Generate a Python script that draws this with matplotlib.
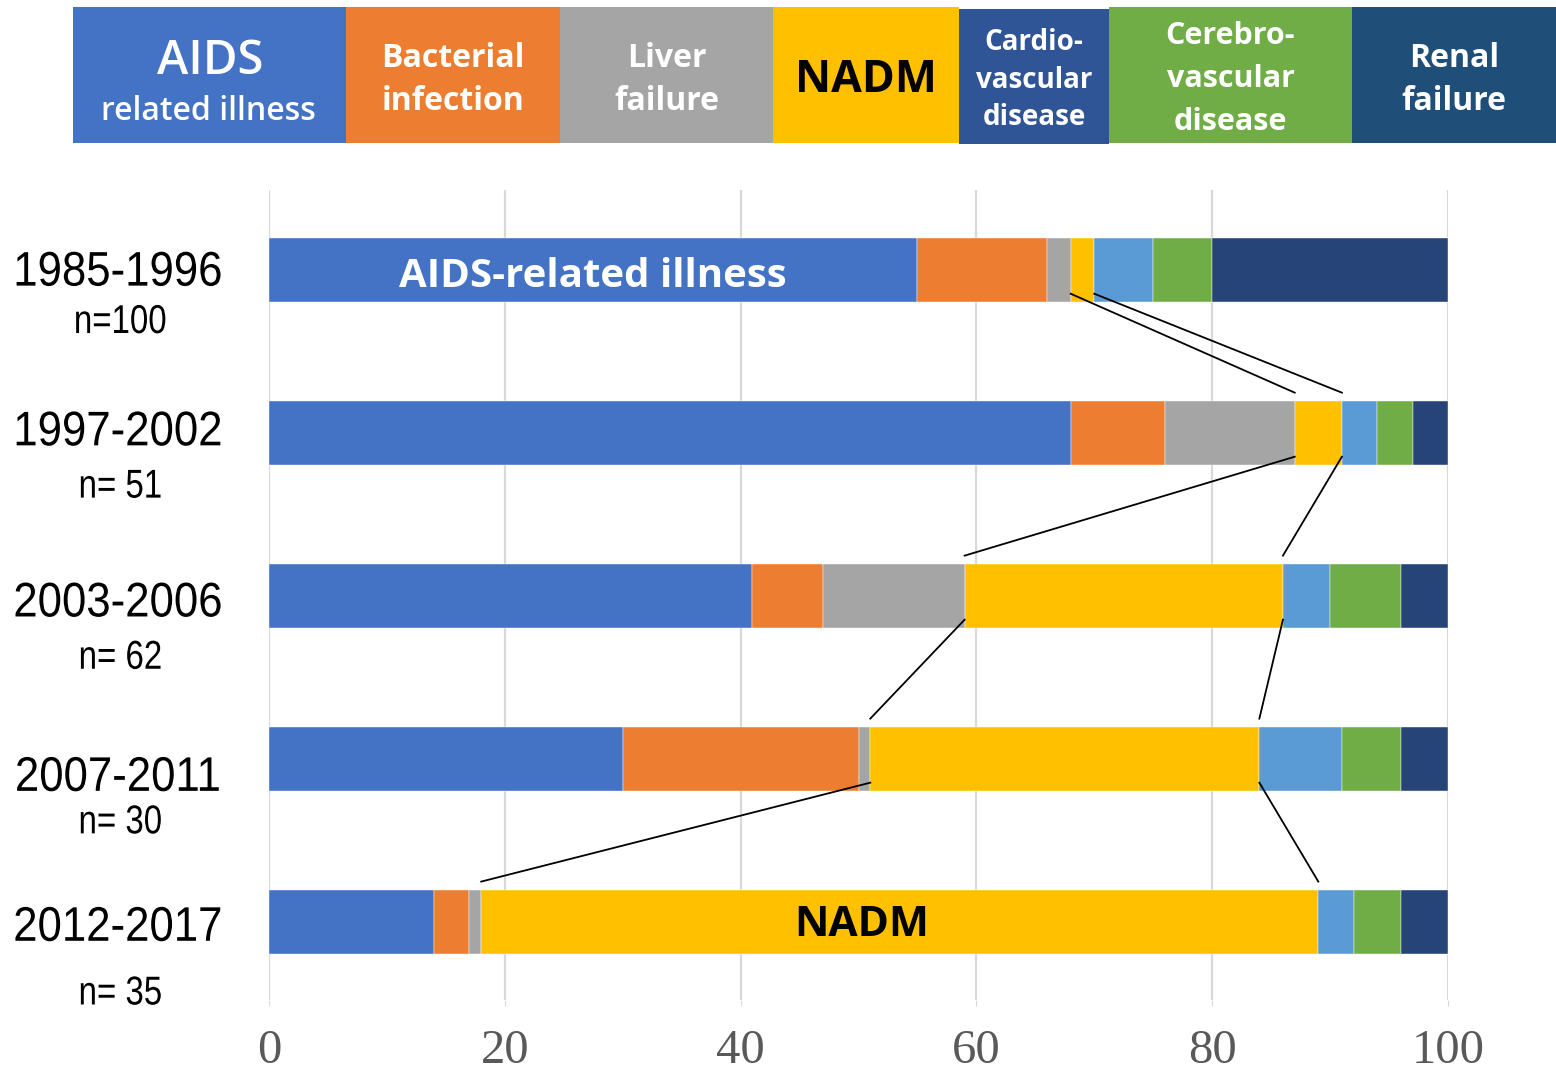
import matplotlib
matplotlib.use("Agg")
import matplotlib.pyplot as plt
from matplotlib.patches import Rectangle
from matplotlib.patheffects import AbstractPathEffect
from matplotlib.transforms import Affine2D

# ---------------- data ----------------
periods = ["1985-1996", "1997-2002", "2003-2006", "2007-2011", "2012-2017"]
counts = ["n=100", "n= 51", "n= 62", "n= 30", "n= 35"]
causes = ["AIDS-related illness", "Bacterial infection", "Liver failure", "NADM",
          "Cardiovascular disease", "Cerebrovascular disease", "Renal failure"]
aids = [55, 68, 41, 30, 14]
bacterial = [11, 8, 6, 20, 3]
liver = [2, 11, 12, 1, 1]
nadm = [2, 4, 27, 33, 71]
cardio = [5, 3, 4, 7, 3]
cerebro = [5, 3, 6, 5, 4]
renal = [20, 3, 4, 4, 4]
xticks = [0, 20, 40, 60, 80, 100]

header_labels = ["AIDS", "Bacterial\ninfection", "Liver\nfailure", "NADM",
                 "Cardio-\nvascular\ndisease", "Cerebro-\nvascular\ndisease", "Renal\nfailure"]

# ---------------- style ----------------
bar_colors = ["#4472C4", "#ED7D31", "#A5A5A5", "#FFC000", "#5B9BD5", "#70AD47", "#264478"]
header_colors = ["#4472C4", "#ED7D31", "#A5A5A5", "#FFC000", "#2F5597", "#70AD47", "#1F4E79"]
W, H = 1556, 1074
FONT = ["Open Sans", "DejaVu Sans"]
NARROW = ["Liberation Sans", "DejaVu Sans"]
SERIF = ["Liberation Serif", "DejaVu Serif"]


class Condense(AbstractPathEffect):
    """Horizontally condense a text around its anchor (narrow-font look)."""

    def __init__(self, text_artist_getter, sx=0.82):
        super().__init__()
        self._get = text_artist_getter
        self._sx = sx

    def draw_path(self, renderer, gc, tpath, affine, rgbFace=None):
        t = self._get()
        cx = t.get_transform().transform(t.get_position())[0]
        squeeze = Affine2D().translate(-cx, 0).scale(self._sx, 1).translate(cx, 0)
        renderer.draw_path(gc, tpath, affine + squeeze, rgbFace)


fig = plt.figure(figsize=(W / 100, H / 100), dpi=100)
fig.patch.set_facecolor("white")

# ---------------- main axes ----------------
ax = fig.add_axes([269 / W, 1 - 1000 / H, 1179 / W, 810 / H])
ax.set_xlim(0, 100)
ax.set_ylim(4.48, -0.49)
bar_h = 0.393
series = [aids, bacterial, liver, nadm, cardio, cerebro, renal]
ypos = list(range(len(periods)))
left = [0.0] * len(periods)
for vals, col, name in zip(series, bar_colors, causes):
    ax.barh(ypos, vals, left=left, height=bar_h, color=col, label=name,
            edgecolor="white", linewidth=0.3, zorder=3)
    left = [l + v for l, v in zip(left, vals)]

ax.set_xticks(xticks)
ax.set_xticklabels([str(t) for t in xticks], fontfamily=SERIF, fontsize=35, color="#595959")
ax.tick_params(axis="x", length=4, color="#D9D9D9", pad=17)
ax.set_yticks([])
ax.grid(axis="x", color="#D9D9D9", linewidth=1.6, zorder=0)
ax.set_axisbelow(True)
for s in ax.spines.values():
    s.set_visible(False)

# connector lines between NADM segments
nadm_left = [a + b + c for a, b, c in zip(aids, bacterial, liver)]
nadm_right = [l + n for l, n in zip(nadm_left, nadm)]
for i in range(len(periods) - 1):
    y0 = ypos[i] + bar_h / 2 - 0.05
    y1 = ypos[i + 1] - bar_h / 2 - 0.05
    ax.plot([nadm_left[i], nadm_left[i + 1]], [y0, y1], color="black", lw=1.3, zorder=4)
    ax.plot([nadm_right[i], nadm_right[i + 1]], [y0, y1], color="black", lw=1.3, zorder=4)

# in-bar labels
ax.text(aids[0] / 2, ypos[0] + 0.04, "AIDS-related illness", color="white", fontsize=29,
        fontweight="bold", fontfamily=FONT, ha="center", va="center", zorder=5)
ax.text(50.3, ypos[4] + 0.025, "NADM", color="black", fontsize=30.5,
        fontweight="bold", fontfamily=FONT, ha="center", va="center", zorder=5)

# row labels
ytr = ax.get_yaxis_transform()
year_off = [0.02, 0.0, 0.05, 0.12, 0.04]
n_off = [0.32, 0.33, 0.38, 0.39, 0.44]
lab_x = (118 - 269) / 1179


def make_label(x, y, s, size, sx):
    t = ax.text(x, y, s, transform=ytr, ha="center", va="center",
                fontsize=size, fontfamily=NARROW, color="black")
    t.set_path_effects([Condense(lambda t=t: t, sx)])
    return t


for i, (p, n) in enumerate(zip(periods, counts)):
    make_label(lab_x, ypos[i] + year_off[i], p, 35, 0.9)
    make_label(lab_x + 0.002, ypos[i] + n_off[i], n, 29, 0.82)

# ---------------- header ----------------
hax = fig.add_axes([0, 0, 1, 1])
hax.set_xlim(0, W)
hax.set_ylim(H, 0)
hax.axis("off")
edges = [73, 346, 560, 773, 959, 1109, 1352, 1556]
tops = [7, 7, 7, 7, 9, 7, 7]
bots = [143, 143, 143, 143, 144, 143, 143]
for i, col in enumerate(header_colors):
    hax.add_patch(Rectangle((edges[i], tops[i]), edges[i + 1] - edges[i], bots[i] - tops[i],
                            facecolor=col, edgecolor="none"))

cx = [(edges[i] + edges[i + 1]) / 2 for i in range(7)]
# AIDS box: two sizes
hax.text(210, 61, header_labels[0], color="white", fontsize=34, fontfamily=FONT,
         fontweight="semibold", ha="center", va="center")
hax.text(208, 111, "related illness", color="white", fontsize=23, fontfamily=FONT,
         fontweight="semibold", ha="center", va="center")
hax.text(cx[1], 80, header_labels[1], color="white", fontsize=23, fontfamily=FONT,
         fontweight="bold", ha="center", va="center", linespacing=1.42)
hax.text(cx[2], 80, header_labels[2], color="white", fontsize=23, fontfamily=FONT,
         fontweight="bold", ha="center", va="center", linespacing=1.42)
hax.text(cx[3], 81, header_labels[3], color="black", fontsize=32, fontfamily=FONT,
         fontweight="bold", ha="center", va="center")
hax.text(cx[4], 80, header_labels[4], color="white", fontsize=20, fontfamily=FONT,
         fontweight="bold", ha="center", va="center", linespacing=1.4)
hax.text(cx[5], 79, header_labels[5], color="white", fontsize=22, fontfamily=FONT,
         fontweight="bold", ha="center", va="center", linespacing=1.57)
hax.text(cx[6], 80, header_labels[6], color="white", fontsize=23, fontfamily=FONT,
         fontweight="bold", ha="center", va="center", linespacing=1.42)

fig.savefig("out.png", dpi=100, facecolor="white")
